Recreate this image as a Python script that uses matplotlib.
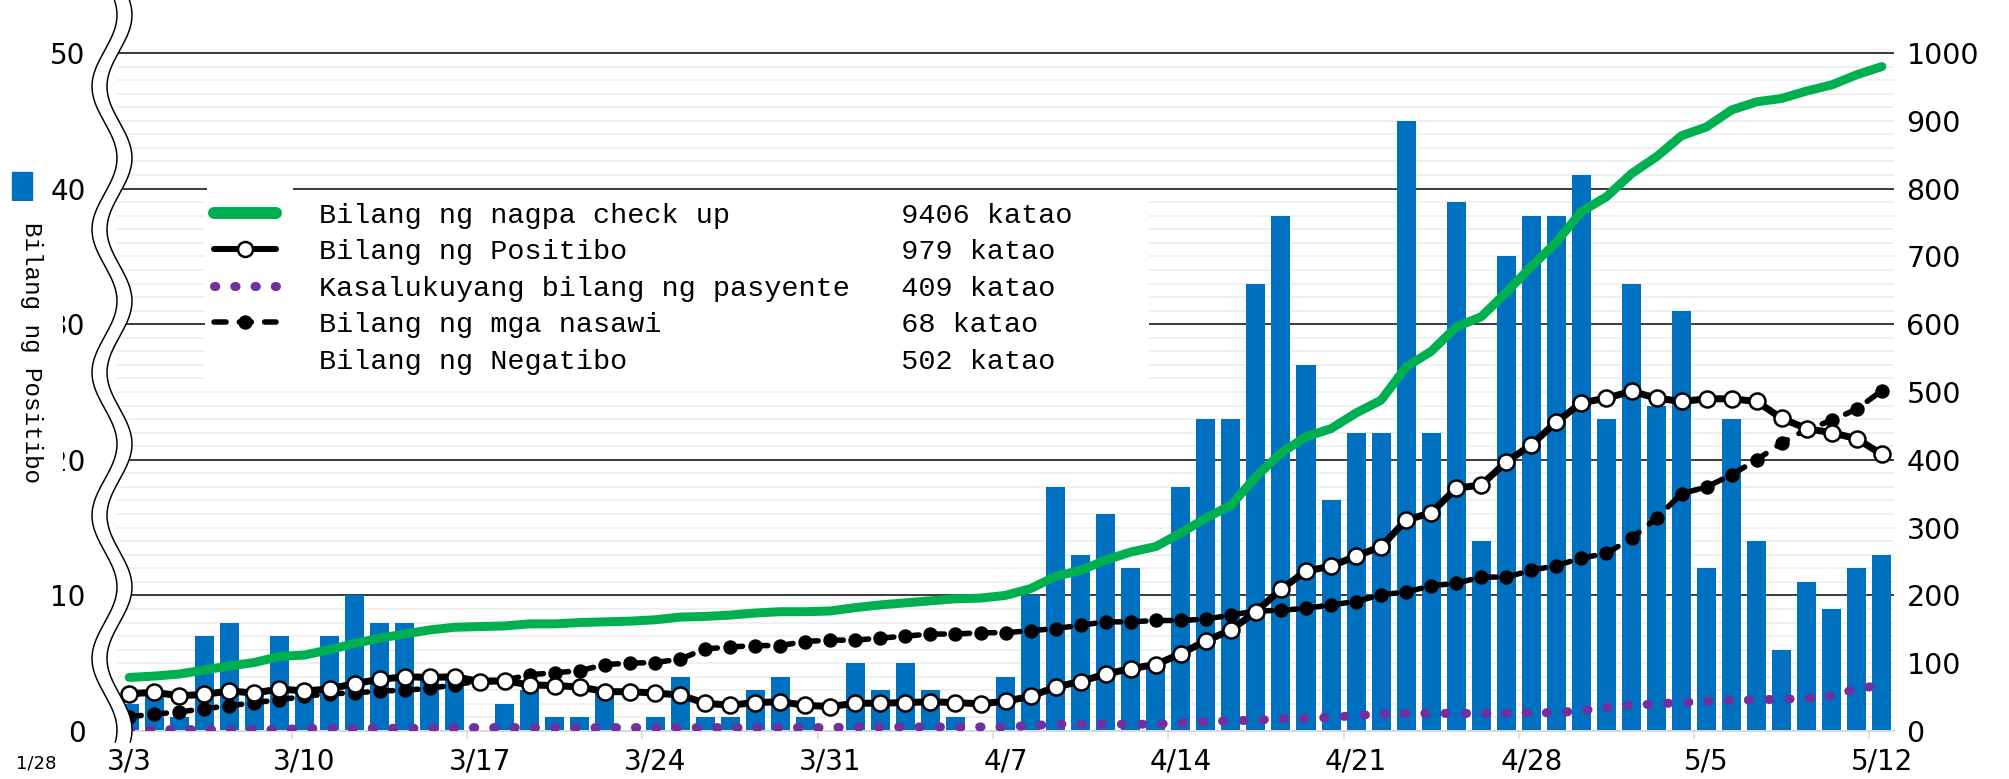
import numpy as np
import pandas as pd
import matplotlib
matplotlib.use("Agg")
import matplotlib.pyplot as plt
from matplotlib.lines import Line2D
from matplotlib.patches import Rectangle, Polygon
from matplotlib.font_manager import FontProperties

W, H = 2009, 779

# Araw-araw mula 3/3 hanggang 5/12
petsa = pd.date_range("2020-03-03", "2020-05-12")
x_labels = ["3/3", "3/10", "3/17", "3/24", "3/31", "4/7", "4/14",
            "4/21", "4/28", "5/5", "5/12"]

# Bar (kaliwang axis)
positibo_araw = [2, 3, 1, 7, 8, 3, 7, 3, 7, 10, 8, 8, 4, 4,
                 0, 2, 3, 1, 1, 3, 0, 1, 4, 1, 1, 3, 4, 1,
                 0, 5, 3, 5, 3, 1, 0, 4,
                 10, 18, 13, 16, 12, 5, 18, 23, 23, 33, 38, 27, 17, 22, 22,
                 45, 22, 39, 14, 35, 38, 38, 41, 23, 33,
                 24, 31, 12, 23, 14, 6, 11, 9, 12, 13]

# Mga linya (kanang axis)
linya_berde = [79, 81, 84, 90, 96, 101, 110, 112, 120, 129, 137, 143, 149, 153, 154,
               155, 158, 158, 160, 161, 162, 164, 168, 169, 171, 174, 176,
               176, 177, 182, 186, 189, 192, 195, 196, 200,
               210, 228, 237, 252, 264, 272, 292, 314, 333,
               375, 410, 434, 446, 469, 488, 537, 560, 596, 611, 647, 685, 721,
               766, 788, 822, 847, 878, 891, 916, 928, 933, 944, 953, 968, 980]

linya_bilog = [55, 57, 52, 54, 59, 56, 62, 59, 62, 70, 76, 80, 79, 80, 73,
               74, 68, 67, 65, 58, 58, 56, 53, 41, 38, 42, 43,
               38, 36, 41, 41, 42, 43, 42, 40, 44,
               51, 65, 73, 84, 92, 98, 114, 133, 149,
               176, 209, 236, 243, 258, 272, 311, 322, 358, 363, 397, 422, 456,
               484, 491, 501, 491, 486, 490, 490, 486, 461, 446, 440, 431, 408]

linya_lila = [2, 2, 2, 2, 2, 2, 2, 4, 4, 4, 4, 4, 4,
              5, 5, 5, 5, 5, 5, 5, 5, 5, 5, 5, 5, 5, 5, 5, 5,
              6, 6, 6, 6, 6, 6, 6,
              8, 10, 10, 10, 10, 10, 12, 14, 15, 16, 18, 19, 20, 23, 25,
              26, 26, 26, 26, 26, 27, 27, 30, 35, 38, 40, 42, 44, 45, 46, 47,
              48, 52, 62, 68]

linya_putol = [21, 25, 28, 33, 37, 42, 46, 51, 55, 56, 59, 60, 63, 68, 74,
               75, 83, 86, 89, 98, 100, 101, 106, 121, 124, 126, 126,
               132, 134, 134, 137, 140, 143, 143, 145, 145,
               148, 151, 156, 161, 161, 163, 163, 165, 171,
               177, 178, 181, 186, 191, 201, 205, 214, 218, 227, 227, 237, 244,
               255, 262, 284, 314, 350, 360, 378, 400, 425, 445, 458, 475, 502]

legend_pangalan = ["Bilang ng nagpa check up", "Bilang ng Positibo",
                   "Kasalukuyang bilang ng pasyente", "Bilang ng mga nasawi",
                   "Bilang ng Negatibo"]
legend_bilang = ["9406 katao", "979 katao", "409 katao", "68 katao", "502 katao"]


def fx(p):
    return p / W


def fy(p):
    return 1 - p / H


PX = 72 / 100  # pixel -> point

plt.rcParams['font.family'] = ['DejaVu Sans']
fig = plt.figure(figsize=(W / 100, H / 100), dpi=100)

left, right, top, bottom = 116.7, 1894.4, 51, 731
ax = fig.add_axes([fx(left), fy(bottom), (right - left) / W, (bottom - top) / H])
x = np.arange(len(petsa))

ax.bar(x, positibo_araw, width=0.76, color='#0070c0', zorder=2)
ax.set_xlim(-0.5, len(petsa) - 0.5)
ytop = 50 * (bottom - top) / (bottom - 53)
ax.set_ylim(0, ytop)
ax.set_yticks(range(0, 51, 10))
ax.set_yticks(range(0, 51, 1), minor=True)
ax.set_axisbelow(True)
ax.yaxis.grid(True, which='major', color='black', lw=1.5 * PX)
ax.yaxis.grid(True, which='minor', color='#f0f0f0', lw=2 * PX)

ax.set_xticks(x[::7])
ax.set_xticklabels(x_labels)
ax.set_xticks(np.arange(-0.5, len(petsa), 7), minor=True)
ax.tick_params(axis='x', which='major', length=0, pad=12, labelsize=20)
ax.tick_params(axis='x', which='minor', length=8 * PX, width=1.5 * PX, color='#d9d9d9')
ax.tick_params(axis='y', which='both', length=0)
ax.tick_params(axis='y', which='major', pad=31 * PX, labelsize=20)
for s in ['left', 'right', 'top']:
    ax.spines[s].set_visible(False)
ax.spines['bottom'].set_color('#d9d9d9')
ax.spines['bottom'].set_linewidth(2 * PX)

ax2 = ax.twinx()
ax2.set_ylim(0, 1000 * ytop / 50)
ax2.set_yticks(range(0, 1001, 100))
ax2.tick_params(axis='y', length=0, pad=12 * PX, labelsize=20.5)
for s in ax2.spines.values():
    s.set_visible(False)

lila_estilo = (0, (0.15, 2.1))
ax2.plot(x, linya_berde, color='#00b050', lw=9 * PX, solid_capstyle='round', zorder=2)
ax2.plot(x, linya_lila, color='#7030a0', lw=9 * PX, linestyle=lila_estilo,
         dash_capstyle='round', zorder=3)
ax2.plot(x, linya_putol, color='black', lw=5.5 * PX, dashes=(2.2, 2.4),
         dash_capstyle='round', marker='o', ms=13 * PX, mfc='black', mec='black', zorder=4)
ax2.plot(x, linya_bilog, color='black', lw=7 * PX, marker='o', ms=16 * PX,
         mfc='white', mec='black', mew=2.5 * PX, zorder=5)

# Puting kahon sa likod ng mga simbolo ng legend
ax2.add_patch(Rectangle((fx(207), fy(340)), 86 / W, 154 / H, transform=fig.transFigure,
                        fc='white', ec='none', zorder=1))

# Legend
h_berde = Line2D([], [], color='#00b050', lw=12 * PX, solid_capstyle='round')
h_bilog = Line2D([], [], color='black', lw=6 * PX, marker='o', ms=15 * PX,
                 mfc='white', mec='black', mew=2.5 * PX, solid_capstyle='round')
h_lila = Line2D([], [], color='#7030a0', lw=9 * PX, linestyle=lila_estilo,
                dash_capstyle='round')
h_putol = Line2D([], [], color='black', lw=5.5 * PX, dashes=(2.2, 2.4),
                 dash_capstyle='round', marker='o', ms=13 * PX, mfc='black')
h_wala = Line2D([], [], color='none')
mga_label = [(p.ljust(34) + b).ljust(48) for p, b in zip(legend_pangalan, legend_bilang)]
leg = ax2.legend([h_berde, h_bilog, h_lila, h_putol, h_wala], mga_label,
                 loc='upper left', bbox_to_anchor=(fx(205), fy(194)),
                 bbox_transform=fig.transFigure,
                 prop=FontProperties(family='Liberation Mono', size=20.5),
                 frameon=True, facecolor='white', edgecolor='none', framealpha=1,
                 fancybox=False, handlelength=2.2, handletextpad=1.5,
                 labelspacing=0.37, borderpad=0.3, borderaxespad=0, numpoints=1)

# Pamagat ng kaliwang axis at kahon ng kulay
fig.text(fx(31), fy(352), "Bilang ng Positibo", rotation=270, ha='center', va='center',
         family='Liberation Mono', size=17.5,
         bbox=dict(fc='white', ec='none', pad=15))
fig.add_artist(Rectangle((fx(12), fy(205)), 20 / W, 33 / H,
                         transform=fig.transFigure, color='#0070c0'))
fig.text(fx(36), fy(763), "1/28", size=13, ha='center', va='center')

# Putol (break) ng axis
yy = np.linspace(0, 742, 400)
alon = 12.5 * np.cos(2 * np.pi * (yy - 158) / 143)
kaliwa = np.column_stack([fx(104.5 + alon), fy(yy)])
kanan = np.column_stack([fx(119.5 + alon), fy(yy)])
fig.add_artist(Polygon(np.vstack([kaliwa, kanan[::-1]]), closed=True, fc='white',
                       ec='none', transform=fig.transFigure, zorder=4))
for pts in (kaliwa, kanan):
    fig.add_artist(Line2D(pts[:, 0], pts[:, 1], color='black', lw=1.5 * PX,
                          transform=fig.transFigure, zorder=5))

fig.savefig("out.png", dpi=100)
